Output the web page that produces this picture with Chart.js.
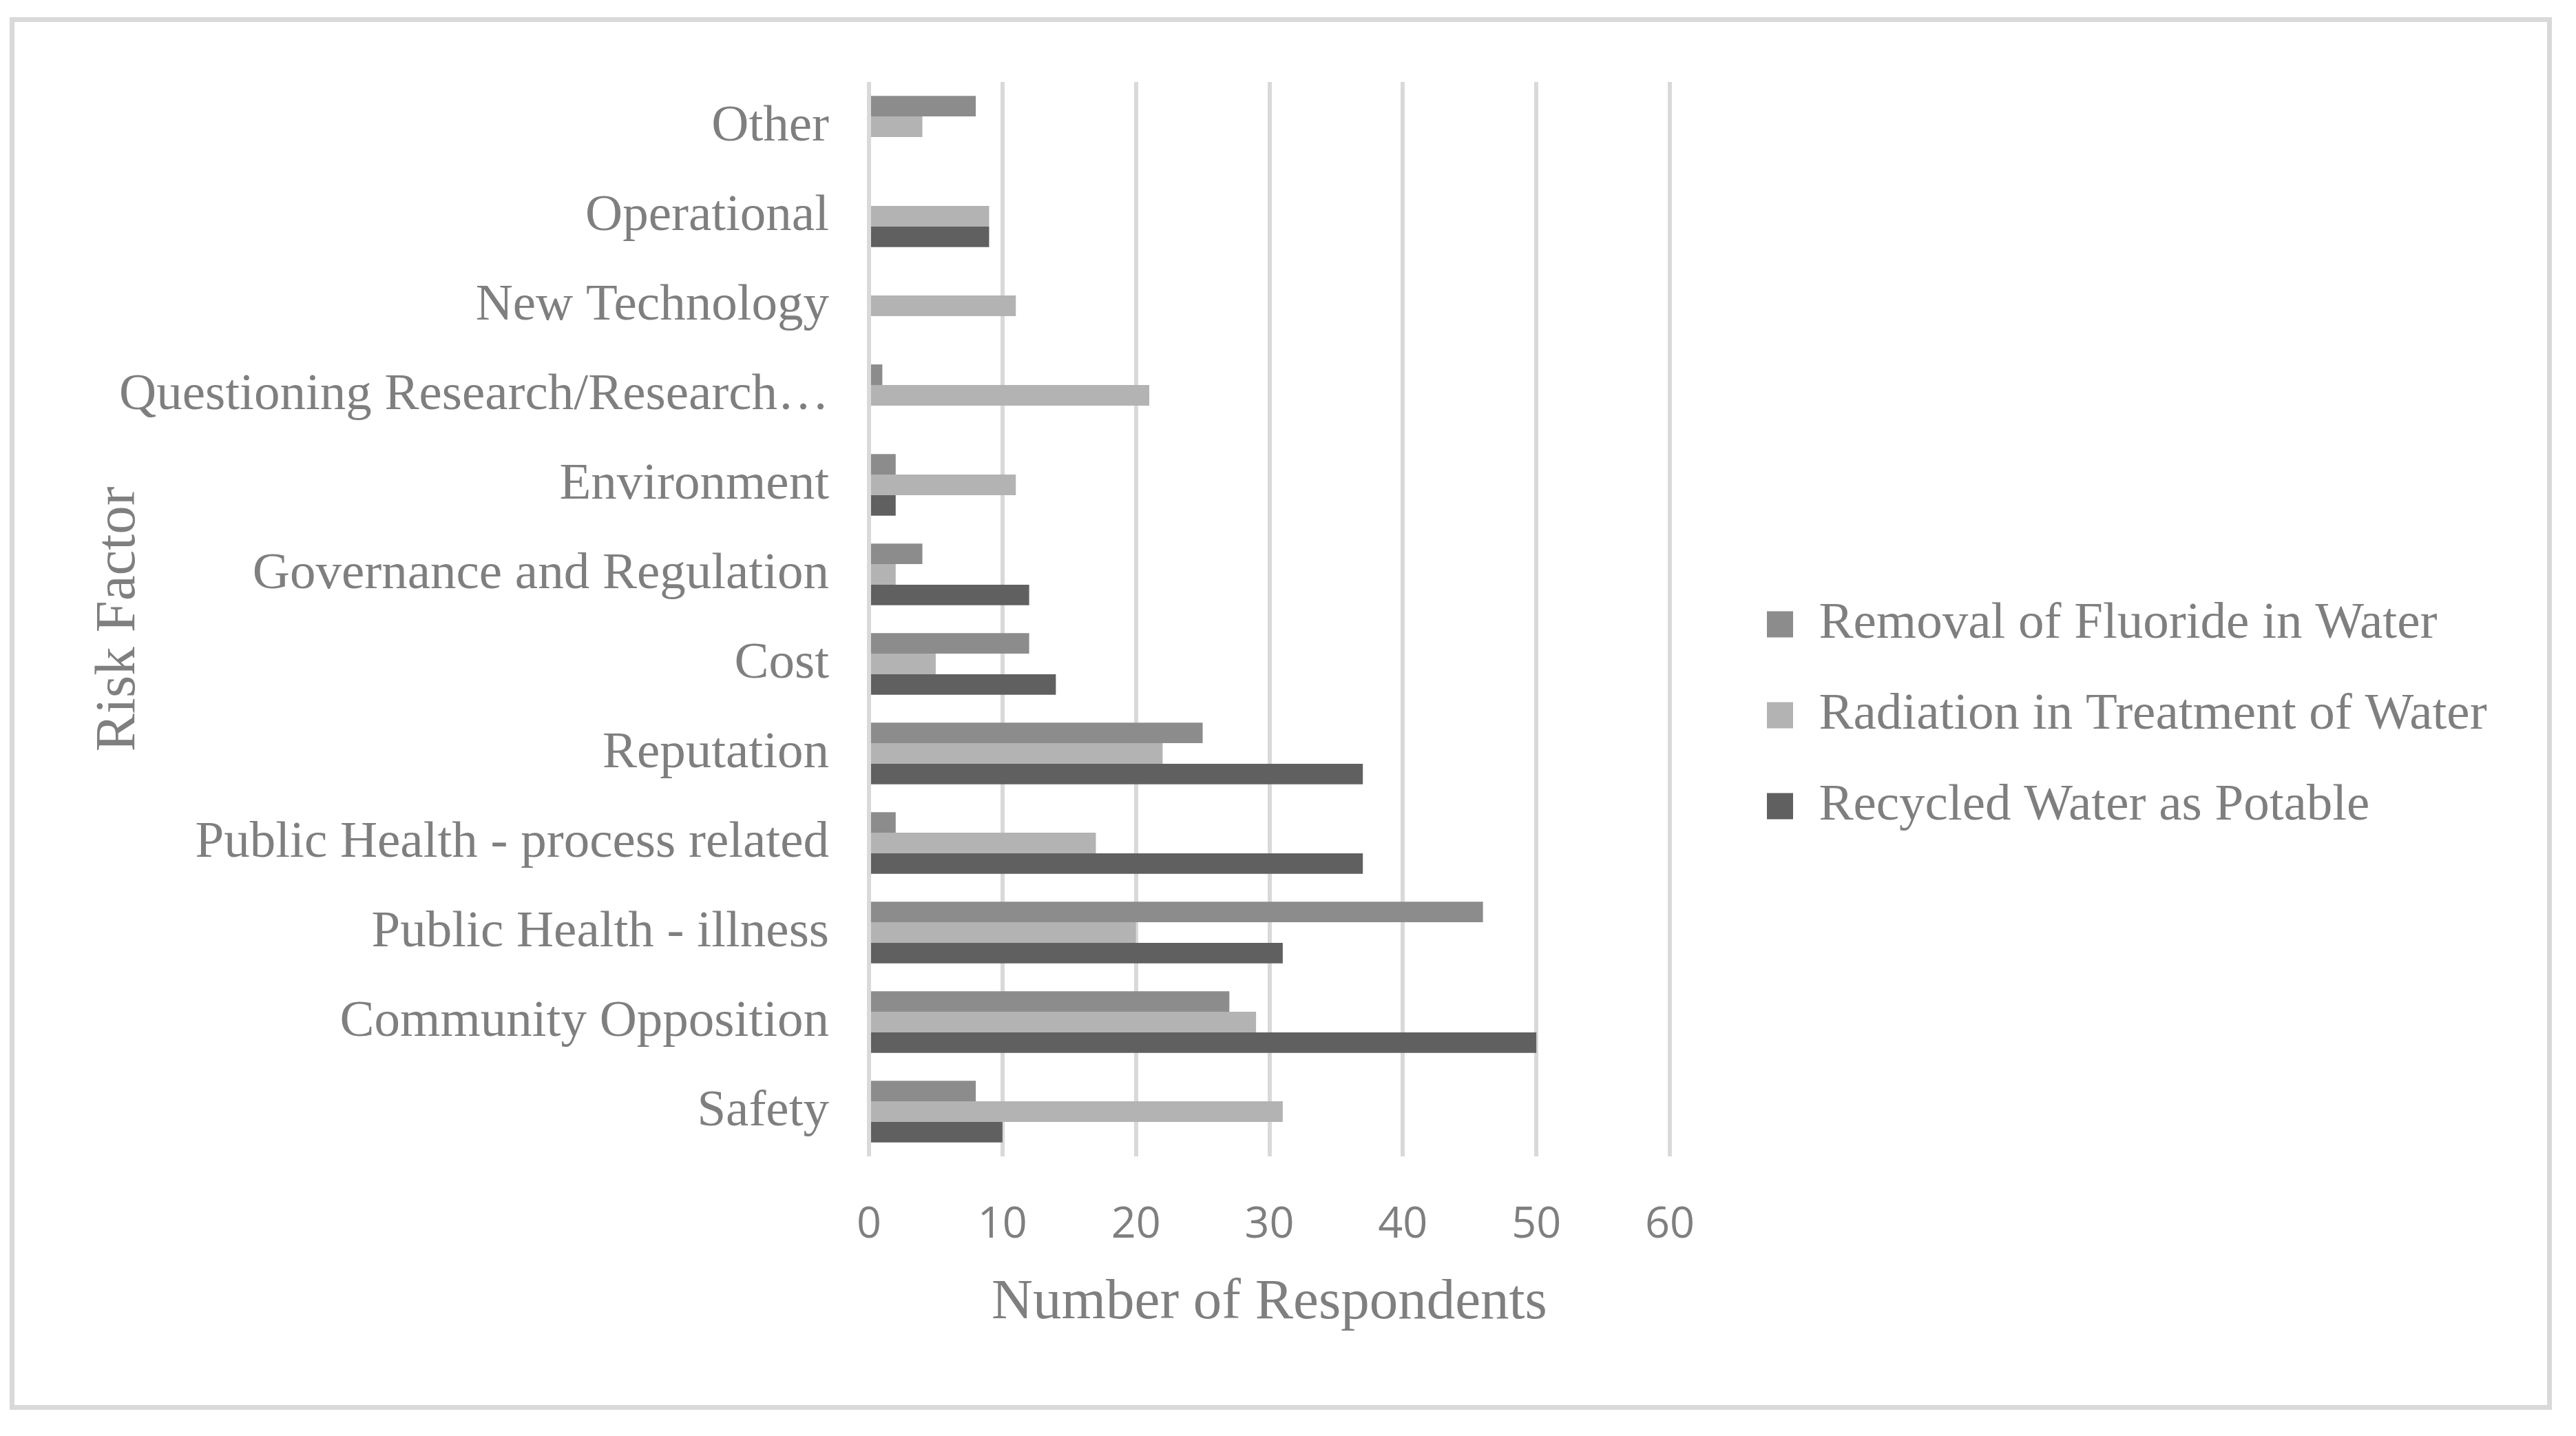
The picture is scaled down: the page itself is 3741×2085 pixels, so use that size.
<!DOCTYPE html>
<html>
<head>
<meta charset="utf-8">
<title>Risk Factor by Number of Respondents</title>
<script src="https://cdn.jsdelivr.net/npm/chart.js@4/dist/chart.umd.min.js"></script>
<style>
  html, body { margin: 0; padding: 0; background: #fff; overflow: hidden; }
  #wrap { position: relative; width: 3741px; height: 2085px; }
  #frame {
    position: absolute; left: 14px; top: 25px; width: 3692px; height: 2022px;
    box-sizing: border-box; border: 7px solid #d9d9d9; pointer-events: none;
  }
  canvas { position: absolute; left: 0; top: 0; }
</style>
</head>
<body>
<div id="wrap">
  <canvas id="riskChart" width="3741" height="2085"></canvas>
  <div id="frame"></div>
</div>
<script>
// Data (top to bottom as shown on the chart)
const categories = [
    'Other',
    'Operational',
    'New Technology',
    'Questioning Research/Research\u2026',
    'Environment',
    'Governance and Regulation',
    'Cost',
    'Reputation',
    'Public Health - process related',
    'Public Health - illness',
    'Community Opposition',
    'Safety'
];
const seriesNames = [
    'Removal of Fluoride in Water',
    'Radiation in Treatment of Water',
    'Recycled Water as Potable'
];
const fluorideValues = [8, 0, 0, 1, 2, 4, 12, 25, 2, 46, 27, 8];
const radiationValues = [4, 9, 11, 21, 11, 2, 5, 22, 17, 20, 29, 31];
const recycledValues = [0, 9, 0, 0, 2, 12, 14, 37, 37, 31, 50, 10];
const xTicks = [0, 10, 20, 30, 40, 50, 60];

// Styling
const serif = "'Liberation Serif', 'Times New Roman', serif";
const textGrey = '#7f7f7f';
const seriesColors = ['#8c8c8c', '#b3b3b3', '#606060'];

// Layout constants (pixels)
const PLOT_LEFT = 1262;
const X_AXIS_HEIGHT = 263;
const LEGEND_BAND_WIDTH = 1316;
const LEGEND_SHIFT_X = 84;
const LEGEND_SHIFT_Y = 8;

// Keep the legend block where the original puts it
const legendPlacement = {
    id: 'legendPlacement',
    afterInit(chart) {
        const legend = chart.legend;
        const baseFit = legend.fit;
        legend.fit = function () {
            baseFit.call(this);
            this.width = LEGEND_BAND_WIDTH;
        };
    },
    afterLayout(chart) {
        const legend = chart.legend;
        legend.left += LEGEND_SHIFT_X;
        legend.right += LEGEND_SHIFT_X;
        legend.top += LEGEND_SHIFT_Y;
        legend.bottom += LEGEND_SHIFT_Y;
    }
};

const valueLists = [fluorideValues, radiationValues, recycledValues];

const ctx = document.getElementById('riskChart').getContext('2d');
const riskChart = new Chart(ctx, {
    type: 'bar',
    data: {
        labels: categories,
        datasets: seriesNames.map((name, i) => ({
            label: name,
            data: valueLists[i],
            backgroundColor: seriesColors[i],
            borderWidth: 0,
            categoryPercentage: 0.69,
            barPercentage: 1
        }))
    },
    options: {
        indexAxis: 'y',
        responsive: false,
        animation: false,
        devicePixelRatio: 1,
        layout: {
            padding: { top: 119, right: 0, bottom: 143, left: 0 }
        },
        plugins: {
            legend: {
                position: 'right',
                labels: {
                    color: textGrey,
                    font: { family: serif, size: 75 },
                    boxWidth: 38,
                    boxHeight: 38,
                    padding: 57
                }
            },
            tooltip: { enabled: false }
        },
        scales: {
            x: {
                min: 0,
                max: 60,
                afterBuildTicks(scale) {
                    scale.ticks = xTicks.map(v => ({ value: v }));
                },
                afterFit(scale) {
                    scale.height = X_AXIS_HEIGHT;
                },
                grid: {
                    color: '#d9d9d9',
                    lineWidth: 6,
                    drawTicks: false
                },
                border: { display: false },
                ticks: {
                    color: textGrey,
                    font: { family: "'Open Sans', sans-serif", size: 63 },
                    padding: 62
                },
                title: {
                    display: true,
                    text: 'Number of Respondents',
                    color: textGrey,
                    font: { family: serif, size: 83 },
                    padding: { top: 30, bottom: 0 }
                }
            },
            y: {
                afterFit(scale) {
                    scale.width = PLOT_LEFT;
                },
                grid: { display: false, drawTicks: false },
                border: { display: false },
                ticks: {
                    color: textGrey,
                    font: { family: serif, size: 75 },
                    padding: 58,
                    autoSkip: false
                },
                title: {
                    display: true,
                    text: 'Risk Factor',
                    color: textGrey,
                    font: { family: serif, size: 83 },
                    padding: { top: 123, bottom: 0 }
                }
            }
        }
    },
    plugins: [legendPlacement]
});
</script>
</body>
</html>
